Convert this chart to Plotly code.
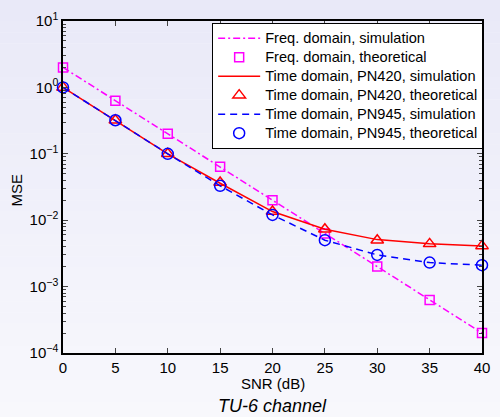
import numpy as np
import plotly.graph_objects as go

snr = [0, 5, 10, 15, 20, 25, 30, 35, 40]

freq_sim = [2.0, 0.63, 0.2, 0.063, 0.02, 0.0063, 0.002, 0.00063, 0.0002]
freq_theo = [2.0, 0.63, 0.2, 0.064, 0.02, 0.0063, 0.002, 0.00063, 0.0002]
pn420_sim = [1.0, 0.32, 0.1, 0.036, 0.0135, 0.0073, 0.0051, 0.0044, 0.0041]
pn420_theo = [1.0, 0.32, 0.1, 0.037, 0.0135, 0.0073, 0.005, 0.0044, 0.0041]
pn945_sim = [1.0, 0.32, 0.1, 0.033, 0.012, 0.005, 0.003, 0.0023, 0.0021]
pn945_theo = [1.0, 0.32, 0.1, 0.033, 0.012, 0.005, 0.003, 0.0023, 0.0021]

y_exps = [-4, -3, -2, -1, 0, 1]
x_ticks = [0, 5, 10, 15, 20, 25, 30, 35, 40]

FONT = "Liberation Sans, Arial, Helvetica, sans-serif"
MAGENTA = "#ff00ff"
RED = "#ff0000"
BLUE = "#0000ff"


def lg(s):
    # legend rows are sized from the (smaller) legend font, text drawn bigger
    return "<span style='font-size:14.6px'>%s</span>" % s


fig = go.Figure()
fig.add_trace(go.Scatter(x=snr, y=freq_sim, mode="lines", name=lg("Freq. domain, simulation"),
                         line=dict(color=MAGENTA, width=1.5, dash="7px,3px,2px,3px")))
fig.add_trace(go.Scatter(x=snr, y=freq_theo, mode="markers", name=lg("Freq. domain, theoretical"),
                         marker=dict(symbol="square-open", size=9, color=MAGENTA,
                                     line=dict(width=1.5, color=MAGENTA)),
                         cliponaxis=False))
fig.add_trace(go.Scatter(x=snr, y=pn420_sim, mode="lines", name=lg("Time domain, PN420, simulation"),
                         line=dict(color=RED, width=1.5)))
fig.add_trace(go.Scatter(x=snr, y=pn420_theo, mode="markers", name=lg("Time domain, PN420, theoretical"),
                         marker=dict(symbol="triangle-up-open", size=11, color=RED,
                                     line=dict(width=1.5, color=RED)),
                         cliponaxis=False))
fig.add_trace(go.Scatter(x=snr, y=pn945_sim, mode="lines", name=lg("Time domain, PN945, simulation"),
                         line=dict(color=BLUE, width=1.5, dash="7px,5px")))
fig.add_trace(go.Scatter(x=snr, y=pn945_theo, mode="markers", name=lg("Time domain, PN945, theoretical"),
                         marker=dict(symbol="circle-open", size=11, color=BLUE,
                                     line=dict(width=1.5, color=BLUE)),
                         cliponaxis=False))

# background gradient (lavender at top -> almost white at bottom)
shapes = []
n = 40
top = np.array([233, 233, 248])
bot = np.array([249, 249, 253])
for i in range(n):
    c = top + (bot - top) * i / (n - 1)
    shapes.append(dict(type="rect", xref="paper", yref="paper", layer="below",
                       x0=-0.2, x1=1.1, y0=1.1 - (i + 1) * 1.35 / n, y1=1.1 - i * 1.35 / n + 0.001,
                       fillcolor="rgb(%d,%d,%d)" % tuple(c), line=dict(width=0)))

minor_vals = [m * 10.0 ** e for e in range(-4, 1) for m in range(2, 10)]

plot_top, plot_bot = 16, 353
h = plot_bot - plot_top

fig.update_layout(
    width=500, height=417,
    margin=dict(l=63, r=10, t=plot_top, b=417 - plot_bot),
    paper_bgcolor="rgb(249,249,253)",
    plot_bgcolor="rgba(0,0,0,0)",
    font=dict(family=FONT, size=15, color="black"),
    shapes=shapes,
    showlegend=True,
    legend=dict(x=0.356, y=0.995, xanchor="left", yanchor="top",
                bgcolor="white", bordercolor="black", borderwidth=1,
                font=dict(size=11.8), itemwidth=42, tracegroupgap=0),
    xaxis=dict(range=[0, 40], tickvals=x_ticks, ticks="inside", ticklen=5,
               showline=True, linecolor="black", linewidth=1.5, mirror="ticks",
               showgrid=False, zeroline=False, tickfont=dict(size=15)),
    yaxis=dict(type="log", range=[-4, 1],
               tickvals=[10.0 ** e for e in y_exps],
               ticktext=["10<sup>%s</sup>" % str(e).replace("-", "\u2212") for e in y_exps],
               ticks="inside", ticklen=5,
               minor=dict(tickvals=minor_vals, ticks="inside", ticklen=3, showgrid=False),
               showline=True, linecolor="black", linewidth=1.5, mirror="ticks",
               showgrid=False, zeroline=False, tickfont=dict(size=15)),
    annotations=[
        dict(text="SNR (dB)", x=0.5, y=1 - (384 - plot_top) / h, xref="paper", yref="paper",
             showarrow=False, yanchor="middle"),
        dict(text="MSE", textangle=-90, x=-0.112, y=0.49, xref="paper", yref="paper",
             showarrow=False, xanchor="center", yanchor="middle"),
        dict(text="<i>TU-6 channel</i>", x=0.5, y=1 - (407 - plot_top) / h, xref="paper",
             yref="paper", showarrow=False, yanchor="middle", font=dict(size=18)),
    ],
)

fig.write_html("out.html", config={"displayModeBar": False},
               post_script="document.body.style.margin='0';")
